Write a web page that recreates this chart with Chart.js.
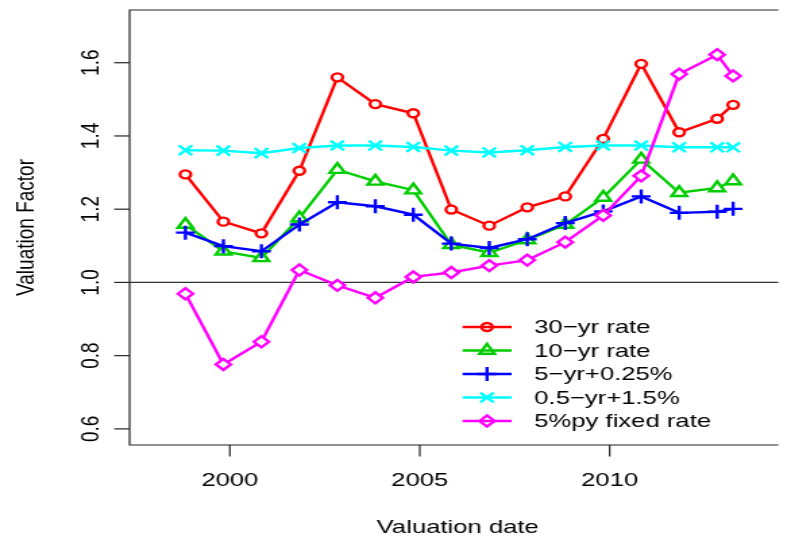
<!DOCTYPE html>
<html>
<head>
<meta charset="utf-8">
<script src="https://cdn.jsdelivr.net/npm/chart.js@4.4.0/dist/chart.umd.min.js"></script>
<style>
  html, body { margin: 0; padding: 0; background: #fff; }
  #grafico { display: block; }
</style>
</head>
<body>
<!-- the original picture is stretched sideways, so the canvas is drawn narrow and widened by css -->
<canvas id="grafico" width="586" height="540" style="width:791px;height:540px"></canvas>
<script>
// 1 data
var fechas = [1998.83, 1999.83, 2000.83, 2001.83, 2002.83, 2003.83, 2004.83, 2005.83,
              2006.83, 2007.83, 2008.83, 2009.83, 2010.83, 2011.83, 2012.83, 2013.25];
var tasa30 = [1.295, 1.166, 1.134, 1.305, 1.560, 1.487, 1.462, 1.199, 1.155, 1.205, 1.235, 1.392, 1.597, 1.410, 1.447, 1.485];
var tasa10 = [1.158, 1.085, 1.067, 1.176, 1.308, 1.276, 1.252, 1.103, 1.081, 1.116, 1.158, 1.232, 1.336, 1.245, 1.258, 1.277];
var tasa5 = [1.136, 1.099, 1.085, 1.158, 1.219, 1.208, 1.185, 1.106, 1.094, 1.118, 1.162, 1.194, 1.235, 1.190, 1.193, 1.201];
var tasa05 = [1.361, 1.360, 1.353, 1.367, 1.374, 1.374, 1.370, 1.360, 1.355, 1.361, 1.370, 1.374, 1.374, 1.369, 1.369, 1.369];
var fija5 = [0.969, 0.776, 0.838, 1.034, 0.992, 0.958, 1.015, 1.027, 1.046, 1.061, 1.110, 1.183, 1.291, 1.569, 1.622, 1.564];

var nombres = ['30\u2212yr rate', '10\u2212yr rate', '5\u2212yr+0.25%', '0.5\u2212yr+1.5%', '5%py fixed rate'];
var series = [tasa30, tasa10, tasa5, tasa05, fija5];

var ticksY = [0.6, 0.8, 1.0, 1.2, 1.4, 1.6];
var etiquetasY = ['0.6', '0.8', '1.0', '1.2', '1.4', '1.6'];
var ticksX = [2000, 2005, 2010];
var etiquetasX = ['2000', '2005', '2010'];
var lineaRef = 1.0;

// 2 styles
var colores = ['#FF0000', '#00CD00', '#0000FF', '#00FFFF', '#FF00FF'];
var estilos = ['circle', 'triangle', 'cross', 'crossRot', 'rectRot'];
var radios = [4, 6.5, 7, 7, 5.5];
var fuente = '19px "Liberation Sans", Arial, sans-serif';
var grosor = 2.4;

// 3 build the datasets
var datasets = series.map(function(valores, i) {
    return {
        label: nombres[i],
        data: valores.map(function(v, k) { return { x: fechas[k], y: v }; }),
        borderColor: colores[i],
        borderWidth: grosor,
        pointStyle: estilos[i],
        pointRadius: radios[i],
        pointBorderWidth: grosor,
        pointBorderColor: colores[i],
        pointBackgroundColor: '#ffffff',
        tension: 0,
        fill: false,
        order: series.length - i
    };
});

// 4 plugin drawing the R style box, axes, labels and legend
var estiloR = {
    id: 'estiloR',
    beforeDatasetsDraw: function(chart) {
        var ctx = chart.ctx;
        var a = chart.chartArea;
        var py = chart.scales.y.getPixelForValue(lineaRef);
        ctx.save();
        ctx.strokeStyle = '#333';
        ctx.lineWidth = 1.3;
        ctx.beginPath();
        ctx.moveTo(a.left, py);
        ctx.lineTo(a.right, py);
        ctx.stroke();
        ctx.restore();
    },
    afterDraw: function(chart) {
        var ctx = chart.ctx;
        var a = chart.chartArea;
        var sx = chart.scales.x;
        var sy = chart.scales.y;
        var linea = 22.8;
        var tick = linea / 2;

        ctx.save();
        ctx.strokeStyle = '#222';
        ctx.lineWidth = 1.2;

        // box (the right side falls outside the picture)
        ctx.beginPath();
        ctx.moveTo(a.right, a.top);
        ctx.lineTo(a.left, a.top);
        ctx.lineTo(a.left, a.bottom);
        ctx.lineTo(a.right, a.bottom);
        ctx.stroke();

        ctx.fillStyle = '#000';
        ctx.font = fuente;

        // y axis
        ticksY.forEach(function(v, i) {
            var py = sy.getPixelForValue(v);
            ctx.beginPath();
            ctx.moveTo(a.left - tick, py);
            ctx.lineTo(a.left, py);
            ctx.stroke();
            ctx.save();
            ctx.translate(a.left - linea, py);
            ctx.rotate(-Math.PI / 2);
            ctx.textAlign = 'center';
            ctx.textBaseline = 'alphabetic';
            ctx.fillText(etiquetasY[i], 0, 0);
            ctx.restore();
        });

        // x axis
        ticksX.forEach(function(v, i) {
            var px = sx.getPixelForValue(v);
            ctx.beginPath();
            ctx.moveTo(px, a.bottom);
            ctx.lineTo(px, a.bottom + tick);
            ctx.stroke();
            ctx.textAlign = 'center';
            ctx.textBaseline = 'alphabetic';
            ctx.fillText(etiquetasX[i], px, a.bottom + 41);
        });

        // axis titles
        var centroX = (sx.getPixelForValue(1997.36) + sx.getPixelForValue(2014.64)) / 2;
        ctx.textAlign = 'center';
        ctx.fillText('Valuation date', centroX, a.bottom + 88);
        ctx.save();
        ctx.translate(a.left - 3 * linea - 3, (a.top + a.bottom) / 2);
        ctx.rotate(-Math.PI / 2);
        ctx.fillText('Valuation Factor', 0, 0);
        ctx.restore();

        // legend
        var lx0 = 342.7, lx1 = 379, lxm = 360.8, ltx = 395.8;
        var ly0 = 327, ldy = 23.5;
        nombres.forEach(function(nombre, i) {
            var ly = ly0 + i * ldy;
            ctx.strokeStyle = colores[i];
            ctx.lineWidth = grosor;
            ctx.beginPath();
            ctx.moveTo(lx0, ly);
            ctx.lineTo(lx1, ly);
            ctx.stroke();
            ctx.fillStyle = 'rgba(0,0,0,0)';
            Chart.helpers.drawPoint(ctx, {
                pointStyle: estilos[i],
                radius: radios[i],
                rotation: 0,
                borderWidth: grosor
            }, lxm, ly);
            ctx.fillStyle = '#000';
            ctx.textAlign = 'left';
            ctx.textBaseline = 'middle';
            ctx.fillText(nombre, ltx, ly + 1);
        });
        ctx.restore();
    }
};

// 5 create the chart
var ctx = document.getElementById('grafico').getContext('2d');
var grafico = new Chart(ctx, {
    type: 'line',
    data: { datasets: datasets },
    options: {
        responsive: false,
        devicePixelRatio: 1,
        animation: false,
        events: [],
        layout: { padding: { left: 96, top: 10, right: 0, bottom: 95 } },
        plugins: { legend: { display: false }, tooltip: { enabled: false } },
        scales: {
            x: { type: 'linear', min: 1997.36, max: 2014.44, display: false },
            y: { type: 'linear', min: 0.556, max: 1.744, display: false }
        }
    },
    plugins: [estiloR]
});
</script>
</body>
</html>
